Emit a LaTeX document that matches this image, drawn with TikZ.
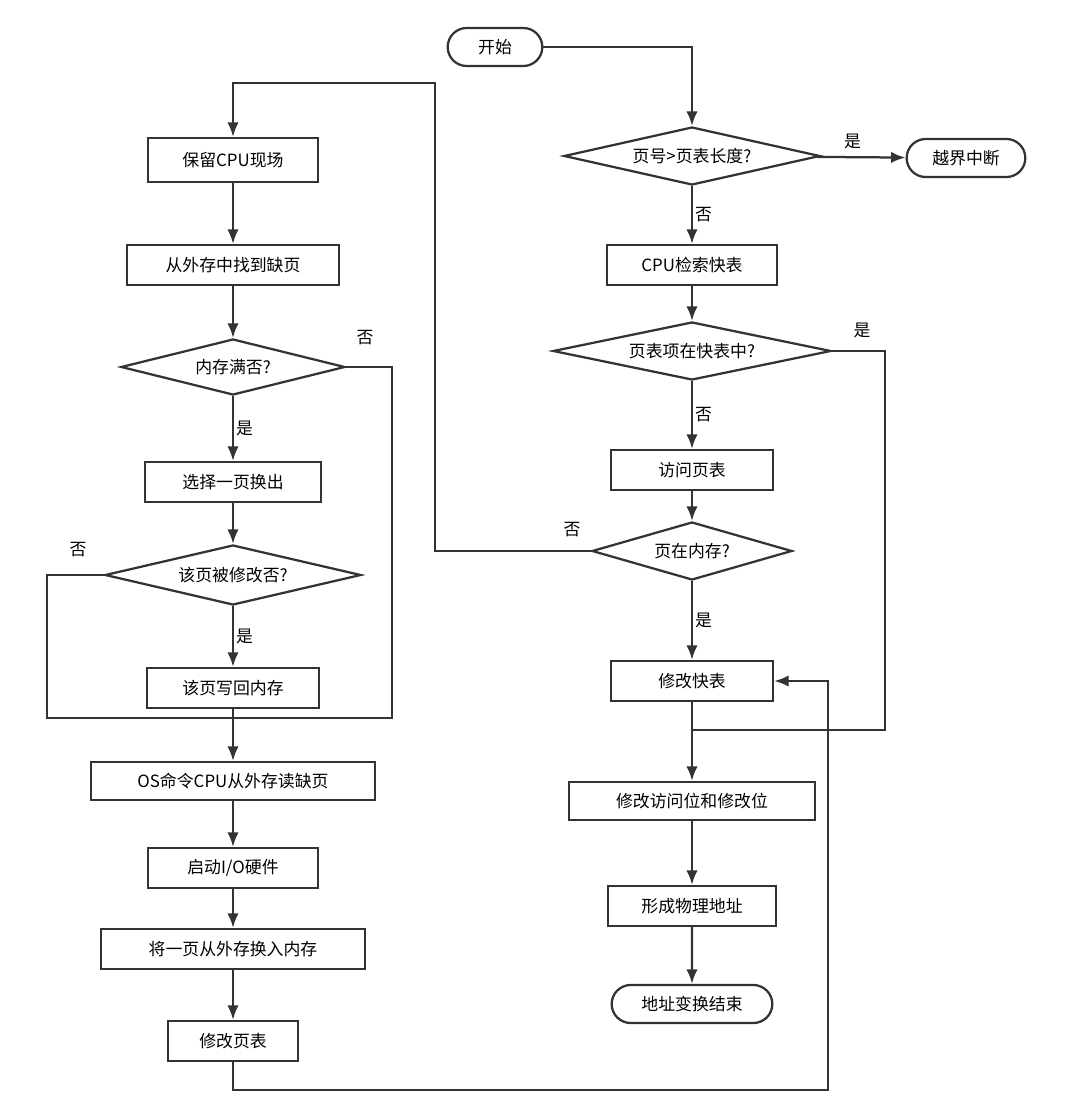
\documentclass[tikz,border=0pt]{standalone}
\usepackage{fontspec}
\setmainfont{Noto Sans CJK SC}
\usetikzlibrary{shapes.geometric,shapes.misc,positioning,arrows.meta}
\definecolor{ink}{HTML}{333333}
\begin{document}
\begin{tikzpicture}[x=0.025cm,y=-0.025cm,>={Latex[length=3.6mm,width=2.8mm]},font=\fontsize{12}{14}\selectfont,
     line width=1.6pt, draw=ink,
     box/.style={rectangle, draw=ink, fill=white, minimum height=1cm, inner sep=2pt},
     rr/.style={rounded rectangle, draw=ink, fill=white, minimum height=0.95cm},
     dd/.style={diamond, aspect=4, draw=ink, fill=white, inner sep=0pt},
     lab/.style={font=\fontsize{12}{14}\selectfont}
   ]
\useasboundingbox (0,0) rectangle (1080,1100);
% right column
\node (st) [rr, minimum width=2.6cm] at (495,47) {开始};
\node (d1) [dd, minimum width=6.4cm, minimum height=1.45cm] at (692,156) {页号>页表长度?};
\node (oob) [rr, minimum width=3.2cm] at (966,158) {越界中断};
\node (tlb) [box, minimum width=4.25cm] at (692,265) {CPU检索快表};
\node (d2) [dd, minimum width=6.95cm, minimum height=1.45cm] at (692,351) {页表项在快表中?};
\node (pt) [box, minimum width=4.05cm] at (692,470) {访问页表};
\node (d3) [dd, minimum width=5cm, minimum height=1.45cm] at (692,551) {页在内存?};
\node (mt) [box, minimum width=4.05cm] at (692,681) {修改快表};
\node (mb) [box, minimum width=6.15cm, minimum height=0.95cm] at (692,801) {修改访问位和修改位};
\node (pa) [box, minimum width=4.2cm] at (692,906) {形成物理地址};
\node (end) [rr, minimum width=4.25cm] at (692,1004) {地址变换结束};
% left column
\node (sv) [box, minimum width=4.25cm, minimum height=1.1cm] at (233,160) {保留CPU现场};
\node (fd) [box, minimum width=5.3cm] at (233,265) {从外存中找到缺页};
\node (df) [dd, minimum width=5.6cm, minimum height=1.4cm] at (233,367) {内存满否?};
\node (sel) [box, minimum width=4.4cm] at (233,482) {选择一页换出};
\node (dm) [dd, minimum width=6.4cm, minimum height=1.5cm] at (233,575) {该页被修改否?};
\node (wb) [box, minimum width=4.3cm] at (233,688) {该页写回内存};
\node (os) [box, minimum width=7.1cm, minimum height=0.95cm] at (233,781) {OS命令CPU从外存读缺页};
\node (io) [box, minimum width=4.25cm] at (233,868) {启动I/O硬件};
\node (ld) [box, minimum width=6.6cm] at (233,949) {将一页从外存换入内存};
\node (up) [box, minimum width=3.25cm] at (233,1041) {修改页表};
\coordinate (jr) at (692,730);
\coordinate (jl) at (233,718);
% connect the nodes
\draw[->] (st) -| (d1);
\draw[->] (d1) -- (oob) node[lab, pos=0.4, above=2pt] {是};
\draw[->] (d1) -- (tlb) node[lab, midway, right=-2pt] {否};
\draw[->] (tlb) -- (d2);
\draw[->] (d2) -- (pt) node[lab, midway, right=-2pt] {否};
\draw (d2.east) -- (885,351) -- (885,730) -- (jr);
\node[lab] at (862,330) {是};
\draw[->] (pt) -- (d3);
\draw[->] (d3) -- (mt) node[lab, midway, right=-2pt] {是};
\draw[->] (d3.west) -- (435,551) -- (435,83) -- (233,83) -- (sv);
\node[lab] at (572,530) {否};
\draw[->] (mt) -- (mb);
\draw[->] (mb) -- (pa);
\draw[->] (pa) -- (end);
\draw[->] (sv) -- (fd);
\draw[->] (fd) -- (df);
\draw[->] (df) -- (sel) node[lab, midway, right=-2pt] {是};
\draw[->] (sel) -- (dm);
\draw[->] (dm) -- (wb) node[lab, midway, right=-2pt] {是};
\draw[->] (wb) -- (os);
\draw (df.east) -- (392,367) -- (392,718) -- (jl);
\node[lab] at (365,338) {否};
\draw (dm.west) -- (47,575) -- (47,718) -- (jl);
\node[lab] at (78,550) {否};
\draw[->] (os) -- (io);
\draw[->] (io) -- (ld);
\draw[->] (ld) -- (up);
\draw[->] (up) -- (233,1090) -- (828,1090) -- (828,681) -- (mt);
\end{tikzpicture}
\end{document}
